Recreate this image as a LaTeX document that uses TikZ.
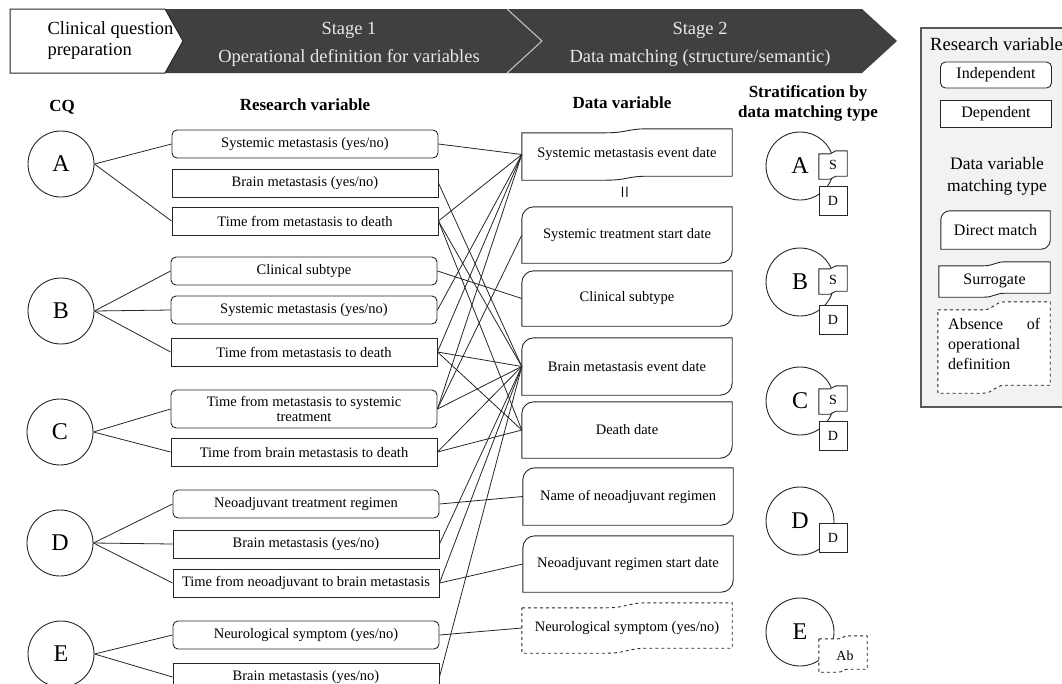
\documentclass[tikz,border=0pt]{standalone}
\usepackage{fontspec}
\setmainfont{Liberation Serif}
\usetikzlibrary{calc}
\definecolor{banner}{HTML}{404040}
\definecolor{bannertext}{HTML}{E8E8E8}
\definecolor{legfill}{HTML}{F2F2F2}
\definecolor{legline}{HTML}{595959}
\definecolor{ink}{HTML}{262626}
\definecolor{chev}{HTML}{C8C8C8}

% diagonal rounded box outline (top-left and bottom-right rounded)
\newcommand{\diagpath}[3][]{%
  \draw[ink,line width=0.9pt,#1] let \p1=(#2.north west), \p2=(#2.south east) in
    (\x1,\y2) -- (\x1,{\y1-#3}) .. controls (\x1,{\y1-0.45*#3}) and ({\x1+0.45*#3},\y1) .. ({\x1+#3},\y1)
    -- (\x2,\y1) -- (\x2,{\y2+#3}) .. controls (\x2,{\y2+0.45*#3}) and ({\x2-0.45*#3},\y2) .. ({\x2-#3},\y2)
    -- cycle;}
% wave (surrogate) outline
\newcommand{\wavepath}[3][]{%
  \draw[ink,line width=0.9pt,#1] let \p1=(#2.north west), \p2=(#2.south east), \n1={\x2-\x1} in
    (\x1,{\y1-#3}) -- ({\x1+0.4*\n1},{\y1-#3})
    .. controls ({\x1+0.5*\n1},{\y1-#3}) and ({\x1+0.5*\n1},\y1) .. ({\x1+0.6*\n1},\y1)
    -- (\x2,\y1) -- (\x2,{\y2+#3}) -- ({\x1+0.6*\n1},{\y2+#3})
    .. controls ({\x1+0.5*\n1},{\y2+#3}) and ({\x1+0.5*\n1},\y2) .. ({\x1+0.4*\n1},\y2)
    -- (\x1,\y2) -- cycle;}

\begin{document}
\begin{tikzpicture}[x=1pt,y=-1pt,
  rv/.style={draw=ink, line width=0.9pt, minimum width=266pt, minimum height=28pt, inner sep=0pt,
    font=\fontsize{14.5}{16}\selectfont, align=center},
  rvr/.style={rv, rounded corners=5pt},
  cq/.style={circle, draw=ink, line width=0.9pt, minimum size=66pt, inner sep=0pt, font=\fontsize{24}{26}\selectfont},
  dv/.style={minimum width=210pt, inner sep=0pt, font=\fontsize{14.5}{16}\selectfont},
  conn/.style={draw=ink, line width=0.8pt},
  hdr/.style={font=\bfseries\fontsize{17}{20}\selectfont, align=center},
  btxt/.style={text=bannertext, font=\fontsize{18.5}{22}\selectfont, align=center},
  sq/.style={draw=ink, fill=white, line width=0.9pt, minimum width=28pt, minimum height=29pt, inner sep=0pt, font=\fontsize{14}{16}\selectfont},
  wv/.style={minimum width=28pt, minimum height=28pt, inner sep=0pt},
  stxt/.style={font=\fontsize{14}{16}\selectfont, inner sep=0pt},
  lg/.style={font=\fontsize{16}{20}\selectfont, inner sep=0pt}
]
\useasboundingbox (0,0) rectangle (1062,683);
\clip (0,0) rectangle (1062,683);

% ---------- banner ----------
\fill[banner] (165,9) -- (862,9) -- (897,41) -- (862,73) -- (165,73) -- cycle;
\draw[chev, line width=1pt] (507,9) -- (542,41) -- (507,73);
\draw[ink, fill=white, line width=1pt] (10,9) -- (165,9) -- (183,41) -- (165,73) -- (10,73) -- cycle;
\node[font=\fontsize{18.5}{21}\selectfont, align=left, anchor=west] (cqp) at (44,41) {Clinical question\\preparation};
\node[btxt] (s1a) at (349,30) {Stage 1};
\node[btxt] (s1b) at (349,58) {Operational definition for variables};
\node[btxt] (s2a) at (700,30) {Stage 2};
\node[btxt] (s2b) at (700,58) {Data matching (structure/semantic)};

% ---------- headers ----------
\node[hdr] (hcq) at (62,107) {CQ};
\node[hdr] (hrv) at (305,105) {Research variable};
\node[hdr] (hdv) at (622,103) {Data variable};
\node[hdr] (hst) at (808,103) {Stratification by\\data matching type};

% ---------- CQ circles ----------
\node[cq] (A) at (61,164) {A};
\node[cq] (B) at (61,311) {B};
\node[cq] (C) at (60,432) {C};
\node[cq] (D) at (60,543) {D};
\node[cq] (E) at (61,654) {E};

% ---------- research variables ----------
\node[rvr] (r1)  at (305,144) {Systemic metastasis (yes/no)};
\node[rv]  (r2)  at (305,183) {Brain metastasis (yes/no)};
\node[rv]  (r3)  at (305,221) {Time from metastasis to death};
\node[rvr] (r4)  at (304,271) {Clinical subtype};
\node[rvr] (r5)  at (304,310) {Systemic metastasis (yes/no)};
\node[rv]  (r6)  at (304,352) {Time from metastasis to death};
\node[rvr, minimum height=38pt, font=\fontsize{14.5}{15}\selectfont] (r7) at (304,409) {Time from metastasis to systemic\\treatment};
\node[rv]  (r8)  at (304,452) {Time from brain metastasis to death};
\node[rvr] (r9)  at (306,504) {Neoadjuvant treatment regimen};
\node[rv]  (r10) at (306,544) {Brain metastasis (yes/no)};
\node[rv]  (r11) at (306,583) {Time from neoadjuvant to brain metastasis};
\node[rvr] (r12) at (306,635) {Neurological symptom (yes/no)};
\node[rv]  (r13) at (306,677) {Brain metastasis (yes/no)};

% ---------- data variables ----------
\node[dv, minimum height=51pt] (dv1) at (627,154.5) {Systemic metastasis event date};
\wavepath{dv1}{4pt}
\node[font=\fontsize{22}{24}\selectfont, rotate=90, inner sep=0pt] (eq) at (627,192) {=};
\node[dv, minimum height=56pt] (dv2) at (627,235) {Systemic treatment start date};
\diagpath{dv2}{12pt}
\node[dv, minimum height=55pt] (dv3) at (627,298.5) {Clinical subtype};
\diagpath{dv3}{12pt}
\node[dv, minimum height=57pt] (dv4) at (627,366.5) {Brain metastasis event date};
\diagpath{dv4}{12pt}
\node[dv, minimum height=56pt] (dv5) at (627,430) {Death date};
\diagpath{dv5}{12pt}
\node[dv, minimum height=57pt] (dv6) at (628,496.5) {Name of neoadjuvant regimen};
\diagpath{dv6}{12pt}
\node[dv, minimum height=56pt] (dv7) at (628,564) {Neoadjuvant regimen start date};
\diagpath{dv7}{12pt}
\node[dv, minimum height=50pt] (dv8) at (627,628) {Neurological symptom (yes/no)};
\wavepath[dashed]{dv8}{5pt}

% ---------- connectors: CQ -> research variable ----------
\foreach \c/\r in {A/r1, A/r3, B/r4, B/r5, B/r6, C/r7, C/r8, D/r9, D/r10, D/r11, E/r12, E/r13}
  \draw[conn] (\c.east) -- (\r.west);

% ---------- connectors: research variable -> data variable ----------
\foreach \r/\d in {r1/dv1, r2/dv4, r3/dv1, r3/dv4, r3/dv5, r4/dv3, r5/dv1,
  r6/dv1, r6/dv4, r6/dv5, r7/dv1, r7/dv2, r7/dv4, r8/dv4, r8/dv5,
  r9/dv6, r10/dv4, r11/dv4, r11/dv7, r12/dv8, r13/dv4}
  \draw[conn] (\r.east) -- (\d.west);

% ---------- stratification ----------
\node[cq, minimum size=68pt] (sA) at (800,166) {A};
\node[wv] (sAs) at (833,165) {};
\wavepath[fill=white]{sAs}{3pt}
\node[stxt] (sAst) at (sAs) {S};
\node[sq] (sAd) at (833,200.5) {D};

\node[cq, minimum size=68pt] (sB) at (800,282) {B};
\node[wv] (sBs) at (833,280) {};
\wavepath[fill=white]{sBs}{3pt}
\node[stxt] (sBst) at (sBs) {S};
\node[sq] (sBd) at (833,319.5) {D};

\node[cq, minimum size=68pt] (sC) at (800,401) {C};
\node[wv] (sCs) at (833,400) {};
\wavepath[fill=white]{sCs}{3pt}
\node[stxt] (sCst) at (sCs) {S};
\node[sq] (sCd) at (833,435.5) {D};

\node[cq, minimum size=68pt] (sD) at (800,521) {D};
\node[sq] (sDd) at (833,537.5) {D};

\node[cq, minimum size=68pt] (sE) at (800,632) {E};
\node[wv, minimum width=48pt, minimum height=36pt] (sEa) at (843,654) {};
\wavepath[fill=white, dashed]{sEa}{3pt}
\node[stxt] (sEt) at (845,656) {Ab};

% ---------- legend ----------
\draw[legline, fill=legfill, line width=1.2pt] (921,28) rectangle (1075,407);
\node[font=\fontsize{18.6}{20}\selectfont, anchor=west, inner sep=0pt] (lrv) at (930,44) {Research variable};
\node[lg, draw=ink, fill=white, line width=0.9pt, rounded corners=5pt, minimum width=111pt, minimum height=26pt] (lind) at (996,75) {Independent};
\node[lg, draw=ink, fill=white, line width=0.9pt, minimum width=111pt, minimum height=27pt] (ldep) at (996,114) {Dependent};
\node[font=\fontsize{17.5}{22}\selectfont, align=center] (ldv) at (997,176) {Data variable\\matching type};
\node[lg, fill=white, minimum width=109pt, minimum height=38pt] (ldm) at (995.5,230) {Direct match};
\diagpath{ldm}{9pt}
\node[lg, minimum width=111pt, minimum height=35pt] (lsu) at (994.5,279.5) {};
\wavepath[fill=white]{lsu}{4pt}
\node[lg] (lsut) at (994.5,281) {Surrogate};
\node[lg, minimum width=112pt, minimum height=91pt] (lab) at (994,347.5) {};
\wavepath[fill=white, dashed]{lab}{8pt}
\node[lg, align=left, anchor=north west, font=\fontsize{16}{20}\selectfont] (labt) at (948,318)
  {\makebox[92pt][s]{Absence of}\\operational\\definition};
\end{tikzpicture}
\end{document}
